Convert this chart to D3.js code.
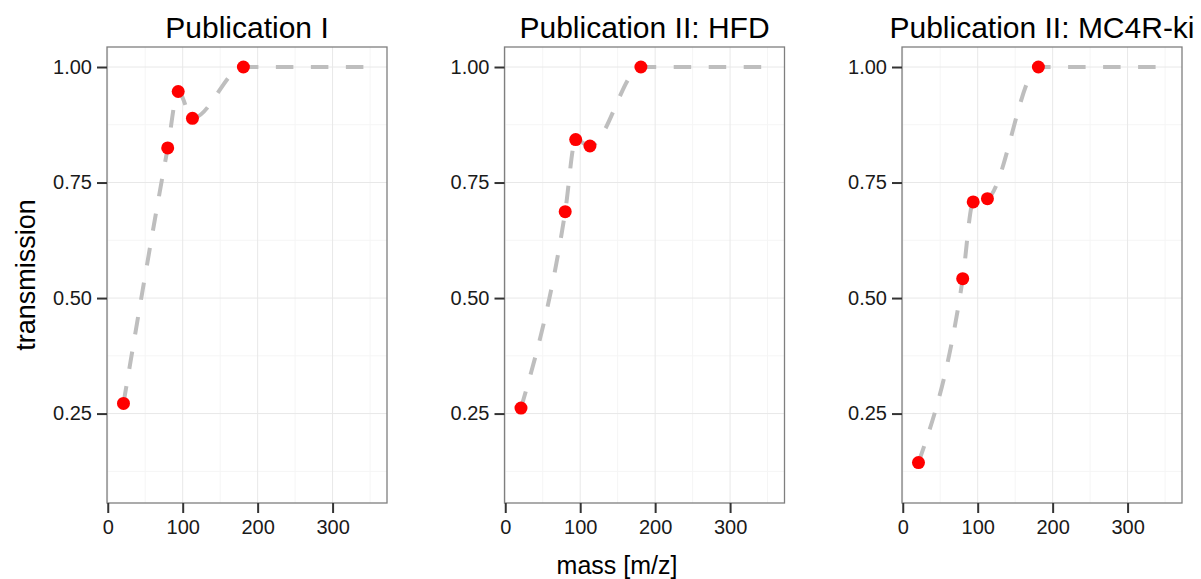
<!DOCTYPE html>
<html>
<head>
<meta charset="utf-8">
<script src="https://cdn.jsdelivr.net/npm/d3@7"></script>
<style>
  body { margin: 0; background: #fff; }
  svg { display: block; font-family: "Liberation Sans", Arial, Helvetica, sans-serif; }
</style>
</head>
<body>
<svg id="chart"></svg>
<script>
// data
const masses = [21, 80, 94, 113, 181];
const pub1Values = [0.272, 0.825, 0.947, 0.889, 1.0];
const hfdValues = [0.262, 0.687, 0.843, 0.829, 1.0];
const mc4rValues = [0.144, 0.542, 0.708, 0.715, 1.0];
const panelTitles = ["Publication I", "Publication II: HFD", "Publication II: MC4R-ki"];
const xTicks = [0, 100, 200, 300];
const xMinorTicks = [50, 150, 250, 350];
const yTicks = [0.25, 0.5, 0.75, 1.0];
const yMinorTicks = [0.125, 0.375, 0.625, 0.875];
// the fitted line runs on flat to this mass
const curveEndMass = 350;
const curveEndValue = 1.0;

const panels = [pub1Values, hfdValues, mc4rValues].map((vals, i) => ({
  title: panelTitles[i],
  points: masses.map((m, j) => ({ mass: m, value: vals[j] }))
}));

const width = 1201, height = 579;
const panelW = 280, panelH = 456;
const panelTop = 47;
const panelLefts = [107, 504.5, 902];

const svg = d3.select("#chart").attr("width", width).attr("height", height);

const x = d3.scaleLinear().domain([-1, 372.6]).range([0, panelW]);
const y = d3.scaleLinear().domain([0.0565, 1.0433]).range([panelH, 0]);

const line = d3.line()
  .x(d => x(d.mass))
  .y(d => y(d.value))
  .curve(d3.curveMonotoneX);

panels.forEach((p, i) => {
  const g = svg.append("g").attr("transform", `translate(${panelLefts[i]},${panelTop})`);

  g.append("rect").attr("width", panelW).attr("height", panelH).attr("fill", "#fff");

  // minor grid
  g.selectAll(".xminor").data(xMinorTicks).enter().append("line")
    .attr("x1", d => x(d)).attr("x2", d => x(d)).attr("y1", 0).attr("y2", panelH)
    .attr("stroke", "#f5f5f5").attr("stroke-width", 1);
  g.selectAll(".yminor").data(yMinorTicks).enter().append("line")
    .attr("y1", d => y(d)).attr("y2", d => y(d)).attr("x1", 0).attr("x2", panelW)
    .attr("stroke", "#f5f5f5").attr("stroke-width", 1);
  // major grid
  g.selectAll(".xmajor").data(xTicks).enter().append("line")
    .attr("x1", d => x(d)).attr("x2", d => x(d)).attr("y1", 0).attr("y2", panelH)
    .attr("stroke", "#e8e8e8").attr("stroke-width", 1);
  g.selectAll(".ymajor").data(yTicks).enter().append("line")
    .attr("y1", d => y(d)).attr("y2", d => y(d)).attr("x1", 0).attr("x2", panelW)
    .attr("stroke", "#e8e8e8").attr("stroke-width", 1);

  // dashed fitted curve
  const curvePts = p.points.concat([{ mass: curveEndMass, value: curveEndValue }]);
  g.append("path")
    .datum(curvePts)
    .attr("d", line)
    .attr("fill", "none")
    .attr("stroke", "#bebebe")
    .attr("stroke-width", 4)
    .attr("stroke-dasharray", "17.5,17.5");

  // points
  g.selectAll(".pt").data(p.points).enter().append("circle")
    .attr("cx", d => x(d.mass))
    .attr("cy", d => y(d.value))
    .attr("r", 6.5)
    .attr("fill", "#ff0000");

  // border
  g.append("rect").attr("width", panelW).attr("height", panelH)
    .attr("fill", "none").attr("stroke", "#7f7f7f").attr("stroke-width", 1.3);

  // axes
  const yAxis = g.append("g")
    .call(d3.axisLeft(y).tickValues(yTicks).tickFormat(d3.format(".2f")).tickSize(10).tickPadding(5));
  const xAxis = g.append("g").attr("transform", `translate(0,${panelH})`)
    .call(d3.axisBottom(x).tickValues(xTicks).tickSize(10).tickPadding(7));
  [xAxis, yAxis].forEach(a => {
    a.select(".domain").remove();
    a.selectAll(".tick line").attr("stroke", "#333").attr("stroke-width", 2);
    a.selectAll(".tick text").attr("fill", "#1a1a1a").style("font-size", "20px")
      .style("font-family", "'Liberation Sans', Arial, sans-serif");
  });

  // title
  svg.append("text")
    .attr("x", panelLefts[i] + panelW / 2)
    .attr("y", 37.5)
    .attr("text-anchor", "middle")
    .style("font-size", "30px")
    .attr("fill", "#000")
    .text(p.title);
});

// axis titles
svg.append("text")
  .attr("x", 617)
  .attr("y", 574)
  .attr("text-anchor", "middle")
  .style("font-size", "25px")
  .attr("fill", "#000")
  .text("mass [m/z]");

svg.append("text")
  .attr("transform", `translate(35,${panelTop + panelH / 2}) rotate(-90)`)
  .attr("text-anchor", "middle")
  .style("font-size", "27px")
  .attr("fill", "#000")
  .text("transmission");
</script>
</body>
</html>
